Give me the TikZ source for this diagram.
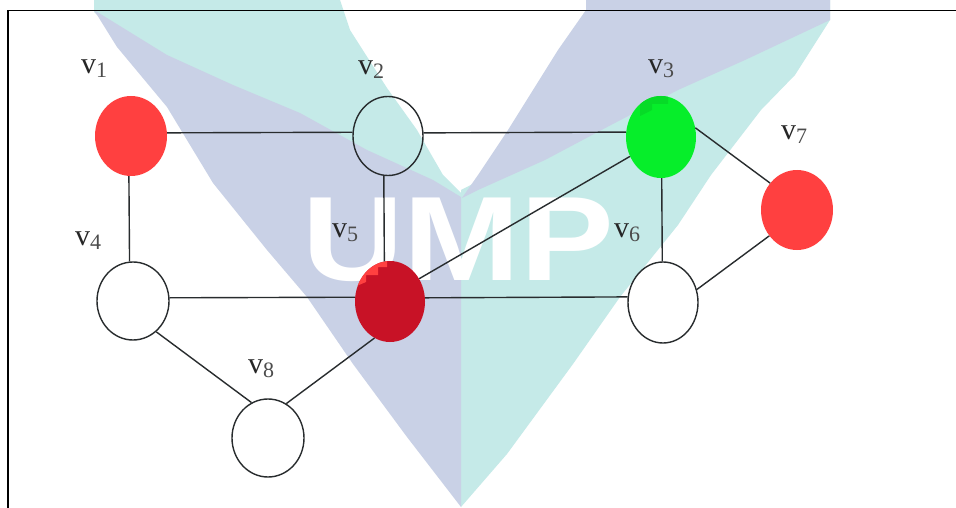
\documentclass[tikz,border=0pt]{standalone}
\usepackage{fontspec}
\setmainfont{Liberation Serif}
\newfontfamily\wm{Liberation Sans}
\usetikzlibrary{shapes.geometric}
\definecolor{wmteal}{RGB}{197,234,232}
\definecolor{wmblue}{RGB}{201,209,230}
\definecolor{vred}{RGB}{255,64,64}
\definecolor{vdark}{RGB}{200,18,38}
\definecolor{vgreen}{RGB}{6,238,42}
\definecolor{edgec}{RGB}{40,44,46}
\tikzset{
  vert/.style={ellipse,draw=edgec,line width=1.4pt,minimum width=70pt,minimum height=79pt,inner sep=0pt},
  vfill/.style={ellipse,draw=none,minimum width=72pt,minimum height=80pt,inner sep=0pt},
  edgeline/.style={draw=edgec,line width=1.4pt},
  vlabel/.style={font=\fontsize{30}{30}\selectfont,text=black!85,inner sep=0pt,anchor=base west},
  frameline/.style={draw=black,line width=1.4pt}
}
\newcommand{\vlab}[1]{v\raisebox{-4pt}{\fontsize{22}{22}\selectfont\textcolor{black!70}{#1}}}
\begin{document}
\begin{tikzpicture}[x=1pt,y=-1pt]
\useasboundingbox (0,0) rectangle (956,508);
\fill[white] (0,0) rectangle (956,508);
% watermark
\fill[wmteal] (94,0) -- (340,0) -- (350,30) -- (387,88) -- (417,130) -- (443,175) -- (462,194) -- (463,300) -- (300,200) -- (94,12) -- cycle;
\fill[wmteal] (461,190) -- (830,0) -- (830,20) -- (795,75) -- (761,110) -- (711,175) -- (678,225) -- (620,297) -- (573,364) -- (507,454) -- (461,507) -- cycle;
\fill[wmblue] (94,10) -- (167,55) -- (233,85) -- (300,113) -- (367,150) -- (433,180) -- (461,197) -- (461,507) -- (407,437) -- (353,364) -- (307,297) -- (267,250) -- (213,183) -- (167,107) -- (117,47) -- cycle;
\fill[wmblue] (586,0) -- (830,0) -- (830,20) -- (745,60) -- (678,90) -- (611,125) -- (545,160) -- (478,190) -- (462,198) -- (478,175) -- (508,130) -- (558,50) -- (586,10) -- cycle;
\node[font=\wm\bfseries\fontsize{120}{120}\selectfont,text=white,inner sep=0pt,anchor=base,xscale=1.17] (wmark) at (458,280) {UMP};
% frame
\coordinate (fa) at (8,508);
\coordinate (fb) at (8,10.5);
\coordinate (fc) at (956,10.5);
\draw[frameline] (fa) -- (fb) -- (fc);
% vertices
\node[vfill,fill=vred] (v1) at (131,136) {};
\node[vert] (v2) at (388,136) {};
\node[vfill,fill=vgreen,minimum width=70pt,minimum height=82pt] (v3) at (661,137) {};
\node[vert,minimum width=72pt,minimum height=78pt] (v4) at (133,301) {};
\node[vfill,fill=vdark,minimum width=70pt,minimum height=81pt] (v5) at (390,301.5) {};
\node[vert,minimum height=81pt] (v6) at (663,302.5) {};
\node[vfill,fill=vred] (v7) at (797,210) {};
\node[vert,minimum width=72pt,minimum height=78pt] (v8) at (268,438) {};
% shading patches on v3 and v5
\begin{scope}
\clip (390,301.5) ellipse (35 and 40.5);
\fill[vred] (362,258) -- (387,258) -- (387,267) -- (378,267) -- (378,275) -- (366,275) -- (366,282) -- (352,288) -- cycle;
\end{scope}
\begin{scope}
\clip (661,137) ellipse (35 and 41);
\fill[black!8!vgreen] (640,92) -- (668,92) -- (668,104) -- (652,104) -- (652,110) -- (640,116) -- cycle;
\end{scope}
% edges
\draw[edgeline] (v1.5.5) -- (v2.174.3);
\draw[edgeline] (v2.5.7) -- (v3.172.7);
\draw[edgeline] (v1.267.1) -- (v4.95.8);
\draw[edgeline] (v2.264) -- (v5.98);
\draw[edgeline] (v3.271.4) -- (v6.91.5);
\draw[edgeline] (v3.15) -- (v7.135);
\draw[edgeline] (v3.212.8) -- (v5.38);
\draw[edgeline] (v4.5.7) -- (v5.173.5);
\draw[edgeline] (v5.6.5) -- (v6.171.9);
\draw[edgeline] (v6.21.5) -- (v7.223);
\draw[edgeline] (v4.-53) -- (v8.115);
\draw[edgeline] (v8.62.4) -- (v5.247.4);
% labels
\node[vlabel] (l1) at (81,74) {\vlab{1}};
\node[vlabel] (l2) at (358,75) {\vlab{2}};
\node[vlabel] (l3) at (648,74) {\vlab{3}};
\node[vlabel] (l4) at (75,245) {\vlab{4}};
\node[vlabel] (l5) at (332,237) {\vlab{5}};
\node[vlabel] (l6) at (614,237) {\vlab{6}};
\node[vlabel] (l7) at (781,140) {\vlab{7}};
\node[vlabel] (l8) at (248,373) {\vlab{8}};
\end{tikzpicture}
\end{document}
